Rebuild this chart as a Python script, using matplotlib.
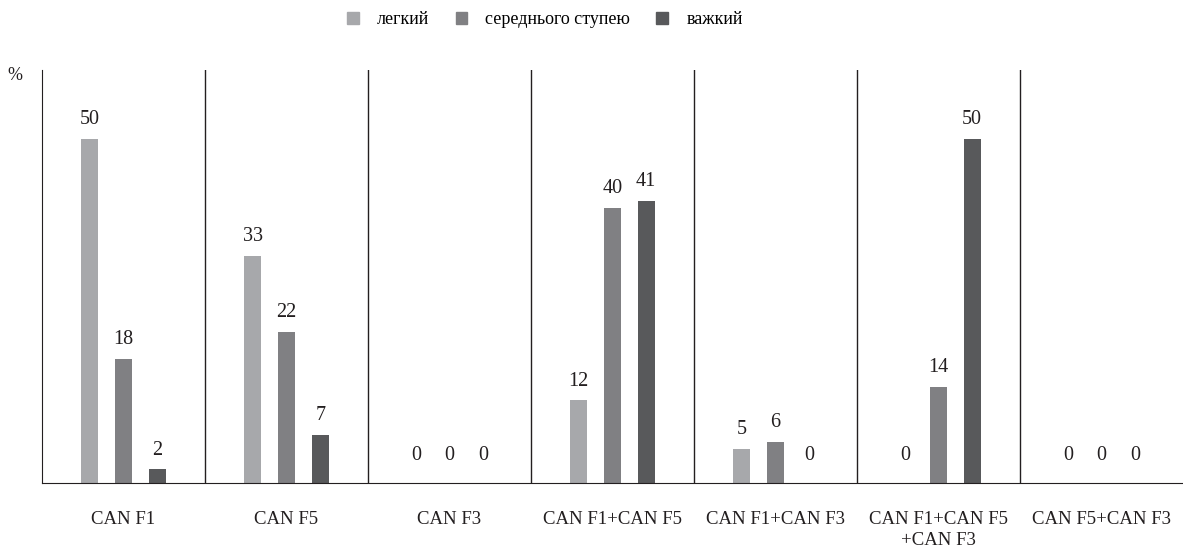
import matplotlib.pyplot as plt
import numpy as np
from matplotlib.patches import Patch

plt.rcParams["font.family"] = ["Liberation Serif", "DejaVu Serif"]

# data
groups = ["CAN F1", "CAN F5", "CAN F3", "CAN F1+CAN F5", "CAN F1+CAN F3",
          "CAN F1+CAN F5\n+CAN F3", "CAN F5+CAN F3"]
series = ["легкий", "середнього ступею", "важкий"]
light = [50, 33, 0, 12, 5, 0, 0]
medium = [18, 22, 0, 40, 6, 14, 0]
heavy = [2, 7, 0, 41, 0, 50, 0]
colors = ["#a7a8ab", "#808083", "#58595b"]

fig = plt.figure(figsize=(11.83, 5.49), dpi=100)
ax = fig.add_axes([42 / 1183, 66 / 549, 1 - 42 / 1183, 413 / 549])

x = np.arange(len(groups))
w = 0.105
step = 0.207
for i, (vals, c) in enumerate(zip([light, medium, heavy], colors)):
    pos = x + (i - 1) * step
    bars = ax.bar(pos, vals, width=w, color=c, label=series[i])
    for xp, v in zip(pos, vals):
        ax.annotate(str(v), (xp, v), xytext=(0, 7 if v > 0 else 13),
                    textcoords="offset points", ha="center", va="bottom",
                    fontsize=14.5, color="#231f20")

# group separators
for b in x[:-1] + 0.5:
    ax.axvline(b, color="#231f20", lw=1)

ax.set_xlim(-0.5, len(groups) - 0.5)
ax.set_ylim(0, 60)
ax.set_yticks([])
ax.set_xticks(x)
ax.set_xticklabels(groups, fontsize=13.5, color="#231f20", linespacing=1.3)
ax.tick_params(axis="x", length=0, pad=20)
for s in ["top", "right"]:
    ax.spines[s].set_visible(False)
ax.spines["left"].set_color("#231f20")
ax.spines["bottom"].set_color("#231f20")

fig.text(15 / 1183, 1 - 76 / 549, "%", fontsize=13, color="#231f20",
         ha="center", va="center")

handles = [Patch(color=c) for c in colors]
fig.legend(handles, series, loc="center", bbox_to_anchor=(545 / 1183, 1 - 20 / 549),
           ncol=3, frameon=False, fontsize=13, handlelength=0.65,
           handleheight=0.65, columnspacing=1.45, handletextpad=1.0)

plt.savefig("out.png")
